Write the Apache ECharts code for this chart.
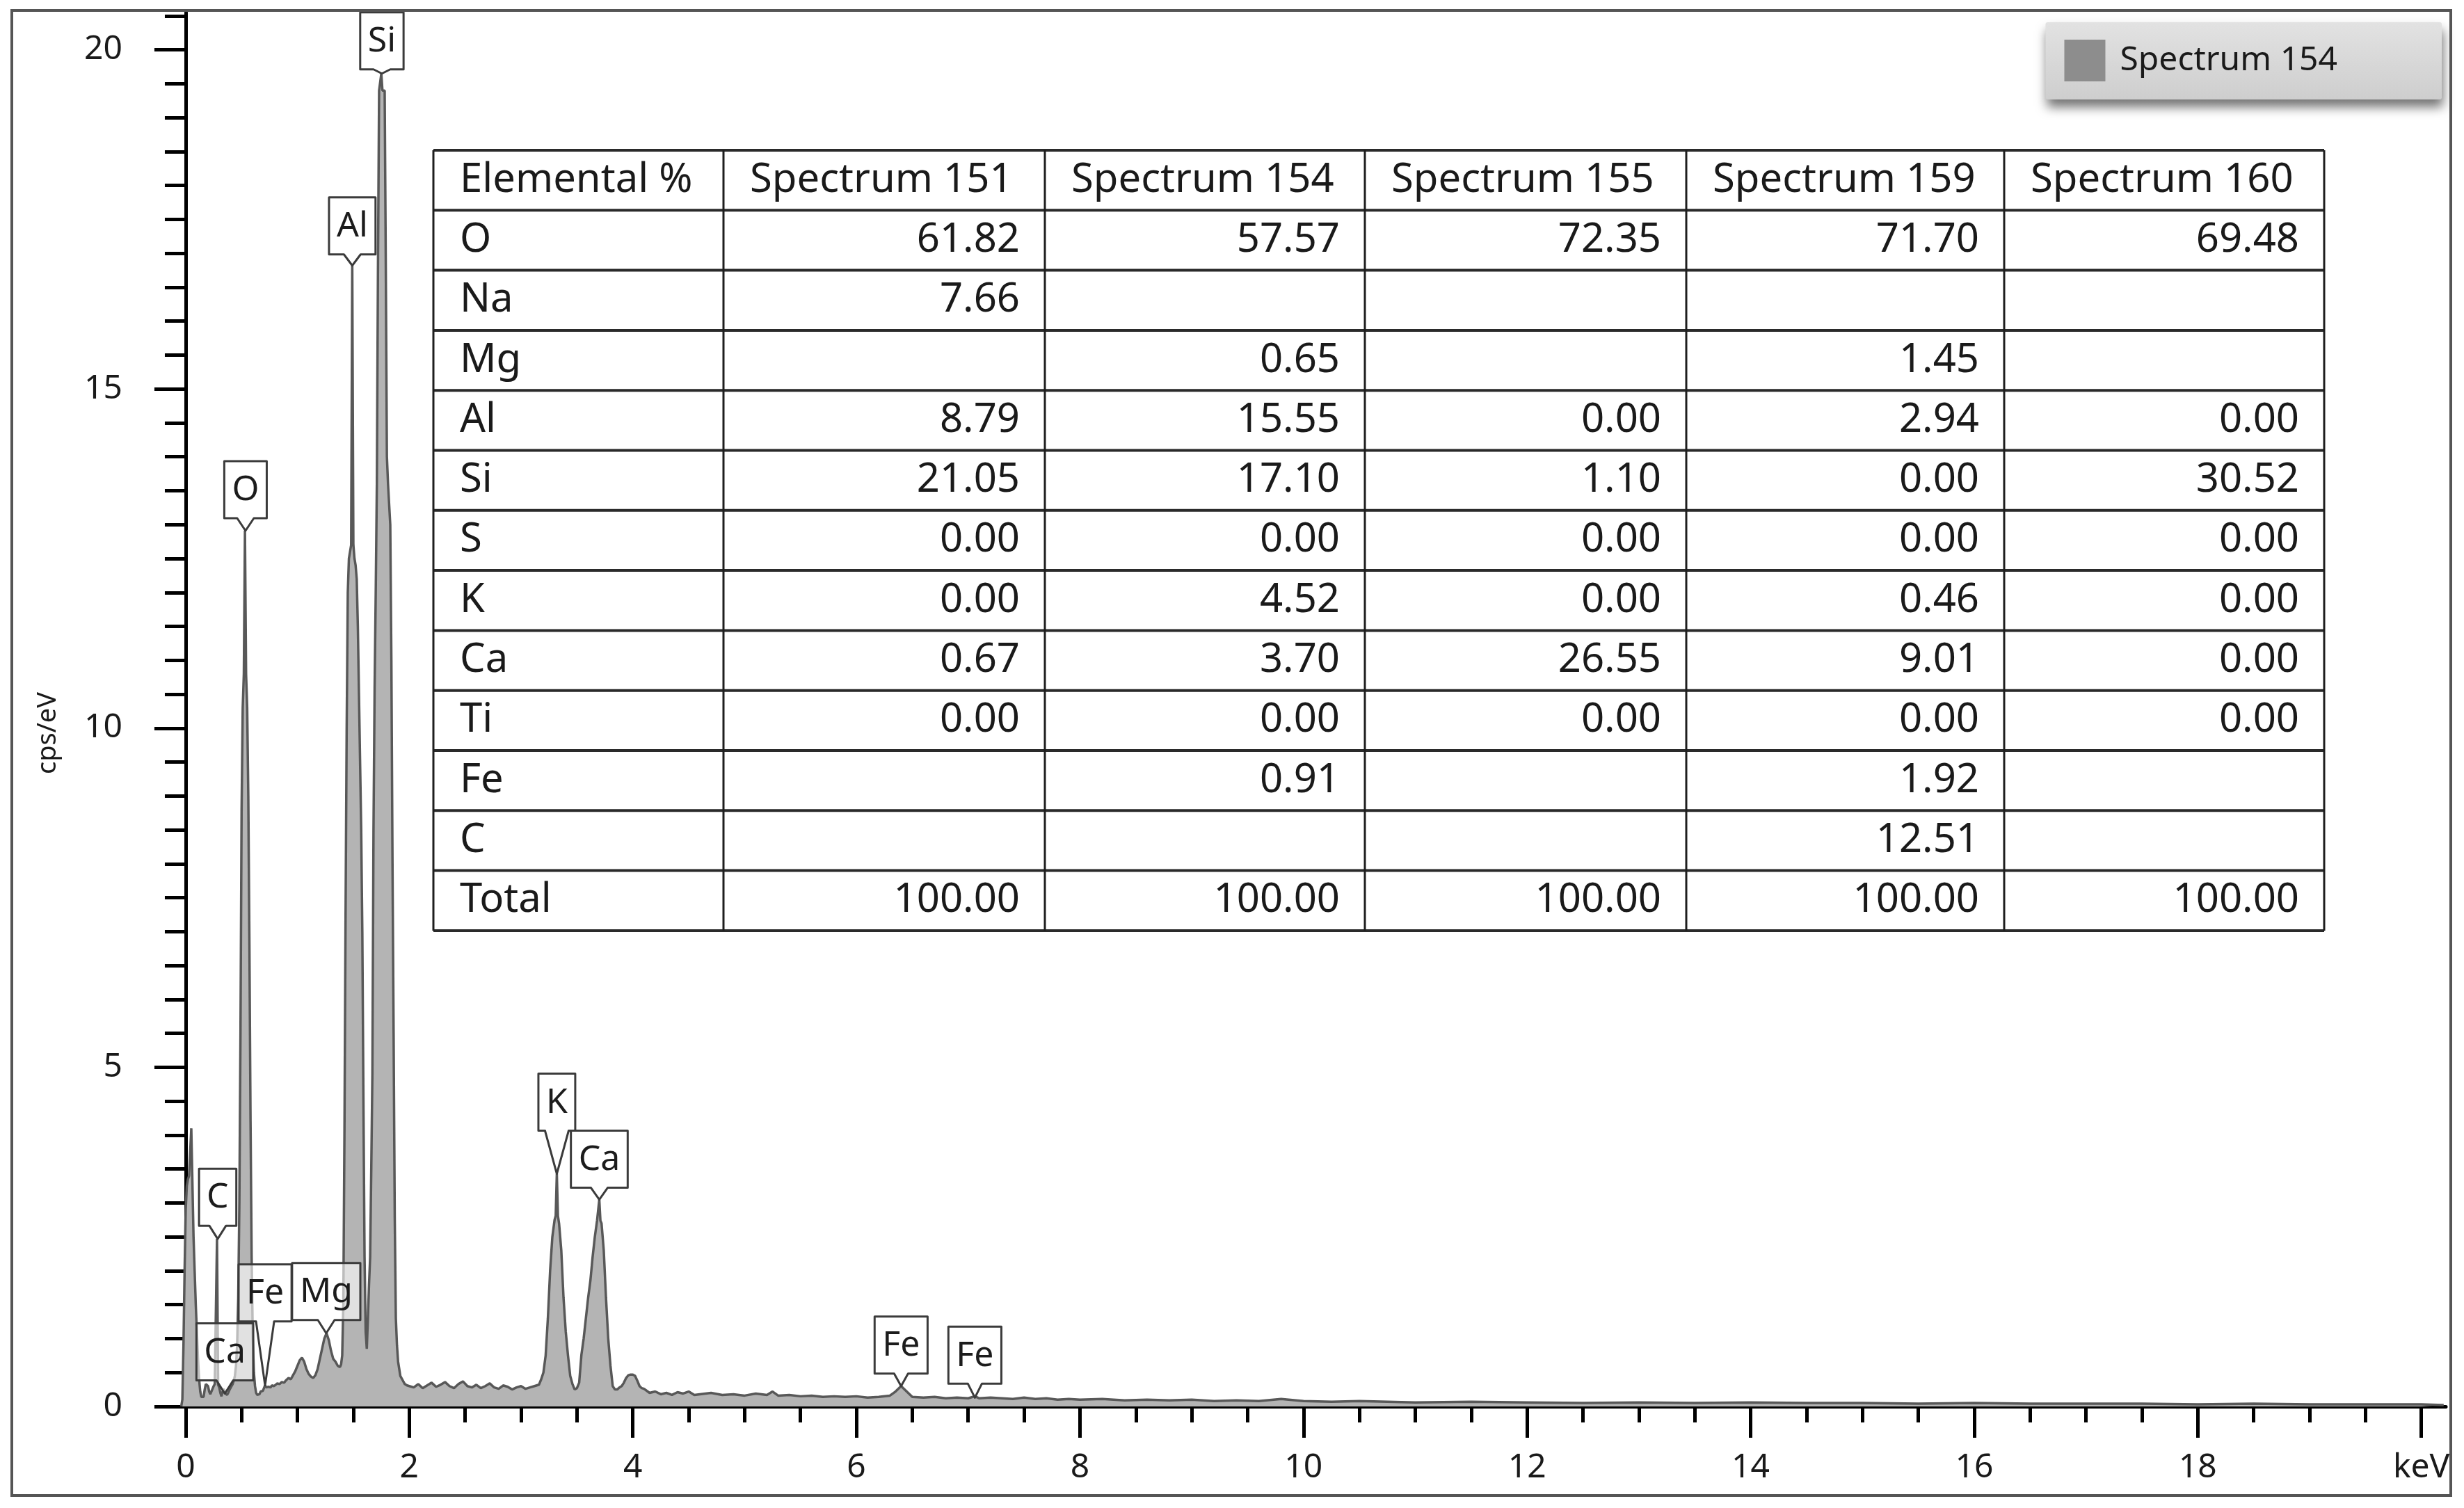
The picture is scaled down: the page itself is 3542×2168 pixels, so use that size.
<!DOCTYPE html>
<html>
<head>
<meta charset="utf-8">
<title>EDS spectrum 154</title>
<script src="https://cdn.jsdelivr.net/npm/echarts@6.0.0/dist/echarts.min.js"></script>
<style>
  html, body { margin: 0; padding: 0; background: #fff; }
  #chart { width: 3542px; height: 2168px; }
</style>
</head>
<body>
<div id="chart"></div>
<script>
// ---- spectrum (keV, cps/eV) ----
const zeroPeak = [
  [-0.04, 0], [-0.03, 0.1], [-0.02, 0.9], [-0.01, 2.0], [0.00, 2.9], [0.01, 3.25], [0.02, 3.35],
  [0.03, 3.4], [0.04, 3.4], [0.05, 4.1], [0.06, 3.3], [0.07, 2.5], [0.08, 2.0], [0.09, 1.5],
  [0.10, 1.1], [0.11, 0.7], [0.12, 0.4], [0.13, 0.22], [0.14, 0.14], [0.15, 0.12]
]
const lowEnergy = [
  [0.16, 0.14], [0.17, 0.25], [0.18, 0.33], [0.19, 0.35], [0.20, 0.3], [0.21, 0.22], [0.22, 0.18],
  [0.23, 0.2], [0.24, 0.26], [0.25, 0.3], [0.26, 0.33], [0.27, 0.34], [0.28, 2.47], [0.29, 0.32],
  [0.30, 0.28], [0.31, 0.2], [0.32, 0.15], [0.33, 0.22], [0.34, 0.26], [0.35, 0.2], [0.36, 0.2],
  [0.37, 0.17], [0.38, 0.2], [0.39, 0.24], [0.40, 0.26], [0.41, 0.3], [0.42, 0.33], [0.43, 0.38],
  [0.44, 0.45], [0.45, 0.6], [0.46, 0.9], [0.47, 1.6], [0.48, 3.0], [0.49, 5.5], [0.50, 8.8],
  [0.51, 10.3], [0.52, 10.8], [0.53, 12.91], [0.54, 10.8], [0.55, 10.3], [0.56, 9.0], [0.57, 6.8],
  [0.58, 4.2], [0.59, 2.2], [0.60, 1.0], [0.61, 0.5], [0.62, 0.3], [0.63, 0.2], [0.64, 0.17],
  [0.65, 0.16], [0.66, 0.18], [0.67, 0.22], [0.68, 0.2], [0.69, 0.23], [0.70, 0.27], [0.71, 0.31],
  [0.72, 0.28], [0.73, 0.26], [0.74, 0.29], [0.75, 0.3], [0.76, 0.28], [0.77, 0.31], [0.78, 0.33],
  [0.79, 0.3], [0.80, 0.32], [0.82, 0.34], [0.84, 0.33], [0.86, 0.36], [0.88, 0.35], [0.90, 0.39],
  [0.92, 0.42], [0.94, 0.4], [0.96, 0.46], [0.98, 0.52], [1.00, 0.6], [1.02, 0.68], [1.04, 0.72],
  [1.06, 0.66], [1.08, 0.55], [1.10, 0.48], [1.12, 0.44], [1.14, 0.42], [1.16, 0.46], [1.18, 0.55],
  [1.20, 0.7], [1.22, 0.85], [1.24, 1.0], [1.26, 1.08], [1.28, 0.98], [1.30, 0.82], [1.32, 0.7],
  [1.34, 0.66], [1.36, 0.6], [1.38, 0.58], [1.39, 0.62], [1.40, 0.75]
]
const alSiPeaks = [
  [1.41, 1.5], [1.42, 4.0], [1.43, 7.2], [1.44, 10.0], [1.45, 12.0], [1.46, 12.5], [1.47, 12.6],
  [1.48, 12.7], [1.49, 16.82], [1.50, 12.7], [1.51, 12.5], [1.52, 12.4], [1.53, 12.2], [1.54, 11.5],
  [1.55, 10.5], [1.56, 9.5], [1.57, 8.5], [1.58, 7.0], [1.59, 4.5], [1.60, 2.2], [1.61, 1.1],
  [1.62, 0.85], [1.63, 1.3], [1.64, 1.8], [1.65, 2.2], [1.66, 3.5], [1.67, 4.9], [1.68, 8.5],
  [1.69, 10.6], [1.70, 12.0], [1.71, 13.6], [1.72, 16.8], [1.73, 19.4], [1.74, 19.4], [1.75, 19.65],
  [1.76, 19.4], [1.77, 19.4], [1.78, 19.4], [1.79, 16.8], [1.80, 14.0], [1.81, 13.6], [1.82, 13.6],
  [1.83, 13.0], [1.84, 11.0], [1.85, 8.0], [1.86, 5.5], [1.87, 2.8], [1.88, 1.3], [1.89, 0.9],
  [1.90, 0.66], [1.92, 0.45], [1.94, 0.39], [1.96, 0.33], [1.98, 0.31], [2.00, 0.3]
]
const background = [
  [2.04, 0.28], [2.08, 0.33], [2.12, 0.27], [2.16, 0.31], [2.20, 0.35], [2.24, 0.29], [2.28, 0.32],
  [2.32, 0.36], [2.36, 0.3], [2.40, 0.27], [2.44, 0.33], [2.48, 0.37], [2.52, 0.3], [2.56, 0.28],
  [2.60, 0.32], [2.64, 0.27], [2.68, 0.3], [2.72, 0.34], [2.76, 0.28], [2.80, 0.26], [2.84, 0.31],
  [2.88, 0.29], [2.92, 0.25], [2.96, 0.28], [3.00, 0.3], [3.04, 0.26], [3.08, 0.28], [3.12, 0.3],
  [3.16, 0.32], [3.18, 0.4]
]
const kCaPeaks = [
  [3.20, 0.5], [3.22, 0.75], [3.24, 1.3], [3.26, 2.0], [3.28, 2.5], [3.30, 2.75], [3.31, 2.81],
  [3.32, 3.43], [3.33, 2.81], [3.34, 2.7], [3.36, 2.3], [3.38, 1.6], [3.40, 1.1], [3.42, 0.75],
  [3.44, 0.45], [3.46, 0.33], [3.48, 0.25], [3.50, 0.27], [3.52, 0.35], [3.54, 0.76], [3.56, 1.0],
  [3.58, 1.3], [3.60, 1.6], [3.62, 1.85], [3.64, 2.2], [3.66, 2.5], [3.68, 2.74], [3.70, 3.05],
  [3.71, 2.74], [3.72, 2.7], [3.74, 2.3], [3.76, 1.6], [3.78, 1.0], [3.80, 0.6], [3.82, 0.3],
  [3.84, 0.25], [3.86, 0.25], [3.88, 0.28], [3.90, 0.3], [3.92, 0.35], [3.94, 0.42], [3.96, 0.46],
  [3.98, 0.47], [4.00, 0.47], [4.02, 0.45], [4.04, 0.38], [4.06, 0.3], [4.08, 0.27], [4.10, 0.26]
]
const tail = [
  [4.15, 0.2], [4.20, 0.22], [4.25, 0.18], [4.30, 0.2], [4.35, 0.17], [4.40, 0.21], [4.45, 0.19],
  [4.50, 0.22], [4.55, 0.17], [4.60, 0.18], [4.70, 0.2], [4.80, 0.17], [4.90, 0.18], [5.00, 0.16],
  [5.10, 0.19], [5.20, 0.17], [5.25, 0.22], [5.30, 0.16], [5.40, 0.17], [5.50, 0.15], [5.60, 0.16],
  [5.70, 0.14], [5.80, 0.15], [5.90, 0.14], [6.00, 0.15], [6.10, 0.13], [6.20, 0.14], [6.30, 0.16],
  [6.35, 0.22], [6.40, 0.30], [6.45, 0.22], [6.50, 0.14], [6.60, 0.13], [6.70, 0.14], [6.80, 0.12],
  [6.90, 0.13], [7.00, 0.12], [7.06, 0.15], [7.10, 0.12], [7.20, 0.13], [7.30, 0.12], [7.40, 0.11],
  [7.50, 0.13], [7.60, 0.11], [7.70, 0.12], [7.80, 0.10], [7.90, 0.11], [8.00, 0.10], [8.20, 0.11],
  [8.40, 0.09], [8.60, 0.10], [8.80, 0.09], [9.00, 0.10], [9.20, 0.08], [9.40, 0.09], [9.60, 0.08],
  [9.80, 0.11], [10.00, 0.08], [10.25, 0.07], [10.50, 0.08], [10.75, 0.07], [11.00, 0.06],
  [11.50, 0.07], [12.00, 0.06], [12.50, 0.05], [13.00, 0.06], [13.50, 0.05], [14.00, 0.06],
  [14.50, 0.05], [15.00, 0.05], [15.50, 0.04], [16.00, 0.05], [16.50, 0.04], [17.00, 0.04],
  [17.50, 0.04], [18.00, 0.03], [18.50, 0.04], [19.00, 0.03], [19.50, 0.03], [20.00, 0.03], [20.20, 0.02]
]

// ---- peak labels ----
const labelNames = ['C', 'Ca', 'O', 'Fe', 'Mg', 'Al', 'Si', 'K', 'Ca', 'Fe', 'Fe']
const labelEnergies = [0.286, 0.35, 0.535, 0.71, 1.257, 1.49, 1.755, 3.32, 3.70, 6.40, 7.06]
const labelTips = [2.47, 0.19, 12.91, 0.31, 1.08, 16.82, 19.65, 3.43, 3.05, 0.30, 0.13]

// ---- axes ----
const xMajorTicks = [0, 2, 4, 6, 8, 10, 12, 14, 16, 18, 20]
const xMinorTicks = [
  0.5, 1, 1.5, 2.5, 3, 3.5, 4.5, 5, 5.5, 6.5, 7, 7.5, 8.5, 9, 9.5, 10.5, 11, 11.5,
  12.5, 13, 13.5, 14.5, 15, 15.5, 16.5, 17, 17.5, 18.5, 19, 19.5
]
const yMajorTicks = [0, 5, 10, 15, 20]
const yMinorTicks = [
  0.5, 1, 1.5, 2, 2.5, 3, 3.5, 4, 4.5, 5.5, 6, 6.5, 7, 7.5, 8, 8.5, 9, 9.5,
  10.5, 11, 11.5, 12, 12.5, 13, 13.5, 14, 14.5, 15.5, 16, 16.5, 17, 17.5, 18, 18.5, 19, 19.5, 20.5
]

// ---- quantification table ----
const tableColumns = ['Elemental %', 'Spectrum 151', 'Spectrum 154', 'Spectrum 155', 'Spectrum 159', 'Spectrum 160']
const tableElements = ['O', 'Na', 'Mg', 'Al', 'Si', 'S', 'K', 'Ca', 'Ti', 'Fe', 'C', 'Total']
const spectrum151Pct = ['61.82', '7.66', '', '8.79', '21.05', '0.00', '0.00', '0.67', '0.00', '', '', '100.00']
const spectrum154Pct = ['57.57', '', '0.65', '15.55', '17.10', '0.00', '4.52', '3.70', '0.00', '0.91', '', '100.00']
const spectrum155Pct = ['72.35', '', '', '0.00', '1.10', '0.00', '0.00', '26.55', '0.00', '', '', '100.00']
const spectrum159Pct = ['71.70', '', '1.45', '2.94', '0.00', '0.00', '0.46', '9.01', '0.00', '1.92', '12.51', '100.00']
const spectrum160Pct = ['69.48', '', '', '0.00', '30.52', '0.00', '0.00', '0.00', '0.00', '', '', '100.00']

// ---- layout / style ----
const FONT = '"Noto Sans", "Open Sans", sans-serif'
const LABEL_FONT = '50px ' + FONT
const LABEL_PAD = 11
const LABEL_H = 82
const labelPointerDepth = [19, 19, 18, 92, 19, 16, 6, 62, 17, 18, 20]
const labelPointerHalf = [12, 12, 12, 13, 12, 12, 12, 17, 12, 10, 10]
const TABLE_X = [623, 1040, 1502, 1962, 2424, 2881, 3341]
const TABLE_TOP = 216
const ROW_H = 86.3

const spectrum = [].concat(zeroPeak, lowEnergy, alSiPeaks, background, kCaPeaks, tail)

const measureCtx = document.createElement('canvas').getContext('2d')
measureCtx.font = LABEL_FONT

function renderPeakLabel(params, api) {
  const i = params.dataIndex
  const tip = api.coord([api.value(0), api.value(1)])
  const w = measureCtx.measureText(labelNames[i]).width + 2 * LABEL_PAD
  const bottom = tip[1] - labelPointerDepth[i]
  const top = bottom - LABEL_H
  const l = tip[0] - w / 2
  const r = tip[0] + w / 2
  const half = labelPointerHalf[i]
  return {
    type: 'group',
    children: [
      {
        type: 'polygon',
        shape: { points: [[l, top], [r, top], [r, bottom], [tip[0] + half, bottom], tip, [tip[0] - half, bottom], [l, bottom]] },
        style: { fill: 'rgba(255,255,255,0.6)', stroke: '#3b3b3b', lineWidth: 3, lineJoin: 'round' },
      },
      {
        type: 'text',
        style: {
          text: labelNames[i], x: tip[0], y: top + LABEL_H / 2 + 1,
          align: 'center', verticalAlign: 'middle', font: LABEL_FONT, fill: '#1c1c1c',
        },
      },
    ],
  }
}

function buildTable() {
  const valueCols = [spectrum151Pct, spectrum154Pct, spectrum155Pct, spectrum159Pct, spectrum160Pct]
  const rows = tableElements.length + 1
  const width = TABLE_X[TABLE_X.length - 1] - TABLE_X[0]
  const height = rows * ROW_H
  const textStyle = { font: '58px ' + FONT, fill: '#1a1a1a', verticalAlign: 'middle' }
  const children = [{
    type: 'rect', shape: { x: TABLE_X[0], y: TABLE_TOP, width, height }, style: { fill: '#fff' },
  }]
  for (let r = 0; r <= rows; r++) {
    const y = TABLE_TOP + r * ROW_H
    children.push({
      type: 'line', shape: { x1: TABLE_X[0], y1: y, x2: TABLE_X[TABLE_X.length - 1], y2: y },
      style: { stroke: '#2a2a2a', lineWidth: 4 },
    })
  }
  TABLE_X.forEach(x => {
    children.push({
      type: 'line', shape: { x1: x, y1: TABLE_TOP, x2: x, y2: TABLE_TOP + height },
      style: { stroke: '#1e1e1e', lineWidth: 3 },
    })
  })
  tableColumns.forEach((name, c) => {
    children.push({
      type: 'text',
      style: Object.assign({ text: name, x: TABLE_X[c] + 38, y: TABLE_TOP + ROW_H / 2, align: 'left' }, textStyle),
    })
  })
  tableElements.forEach((el, r) => {
    const y = TABLE_TOP + (r + 1.5) * ROW_H
    children.push({ type: 'text', style: Object.assign({ text: el, x: TABLE_X[0] + 38, y, align: 'left' }, textStyle) })
    valueCols.forEach((col, c) => {
      if (!col[r]) return
      children.push({
        type: 'text',
        style: Object.assign({ text: col[r], x: TABLE_X[c + 2] - 36, y, align: 'right' }, textStyle),
      })
    })
  })
  return { type: 'group', z: 10, silent: true, children }
}

const axisColor = '#000'
const xRange = { min: -0.23, max: 20.22 }
const yRange = { min: 0, max: 20.55 }

const option = {
  animation: false,
  backgroundColor: '#fff',
  grid: { left: 230, right: 26, top: 18, bottom: 146 },
  legend: {
    right: 32,
    top: 32,
    selectedMode: false,
    icon: 'rect',
    itemWidth: 59,
    itemHeight: 60,
    padding: [25, 150, 26, 27],
    backgroundColor: new echarts.graphic.LinearGradient(0, 0, 0, 1, [
      { offset: 0, color: '#e2e2e2' },
      { offset: 1, color: '#cecece' },
    ]),
    borderRadius: 3,
    shadowBlur: 16,
    shadowColor: 'rgba(0,0,0,0.55)',
    shadowOffsetX: 2,
    shadowOffsetY: 11,
    textStyle: { fontFamily: FONT, fontSize: 48, color: '#1a1a1a', padding: [0, 0, 0, 16] },
    data: [{ name: 'Spectrum 154', itemStyle: { color: '#8d8d8d', borderWidth: 0 } }],
  },
  xAxis: [
    {
      type: 'value', position: 'bottom', ...xRange,
      axisLine: { lineStyle: { color: axisColor, width: 5 } },
      axisTick: { customValues: xMajorTicks, length: 45, lineStyle: { color: axisColor, width: 5 } },
      axisLabel: {
        customValues: xMajorTicks, margin: 64, fontFamily: FONT, fontSize: 48, color: '#1a1a1a',
        formatter: v => (v === 20 ? 'keV' : String(v)),
      },
      splitLine: { show: false },
    },
    {
      type: 'value', position: 'bottom', ...xRange,
      axisLine: { show: false },
      axisTick: { customValues: xMinorTicks, length: 23, lineStyle: { color: axisColor, width: 5 } },
      axisLabel: { show: false },
      splitLine: { show: false },
    },
  ],
  yAxis: [
    {
      type: 'value', position: 'left', ...yRange,
      name: 'cps/eV', nameLocation: 'middle', nameGap: 142, nameRotate: 90,
      nameTextStyle: { fontFamily: FONT, fontSize: 38, color: '#1a1a1a', padding: [0, 68, 0, 0] },
      axisLine: { show: true, lineStyle: { color: axisColor, width: 5 } },
      axisTick: { show: true, customValues: yMajorTicks, length: 45, lineStyle: { color: axisColor, width: 5 } },
      axisLabel: { customValues: yMajorTicks, margin: 54, fontFamily: FONT, fontSize: 48, color: '#1a1a1a' },
      splitLine: { show: false },
    },
    {
      type: 'value', position: 'left', ...yRange,
      axisLine: { show: false },
      axisTick: { show: true, customValues: yMinorTicks, length: 30, lineStyle: { color: axisColor, width: 5 } },
      axisLabel: { show: false },
      splitLine: { show: false },
    },
  ],
  series: [
    {
      name: 'Spectrum 154',
      type: 'line',
      data: spectrum,
      symbol: 'none',
      silent: true,
      z: 2,
      lineStyle: { color: '#585858', width: 3.5 },
      areaStyle: { color: '#b4b4b4', opacity: 1 },
      itemStyle: { color: '#8d8d8d' },
    },
    {
      type: 'custom',
      data: labelEnergies.map((e, i) => [e, labelTips[i]]),
      encode: { x: 0, y: 1 },
      renderItem: renderPeakLabel,
      clip: false,
      silent: true,
      z: 5,
    },
  ],
  graphic: [
    buildTable(),
    {
      type: 'rect', z: 20, silent: true,
      shape: { x: 17, y: 15, width: 3506, height: 2135 },
      style: { fill: 'none', stroke: '#555', lineWidth: 4 },
    },
  ],
}

const chart = echarts.init(document.getElementById('chart'))
chart.setOption(option)
</script>
</body>
</html>
